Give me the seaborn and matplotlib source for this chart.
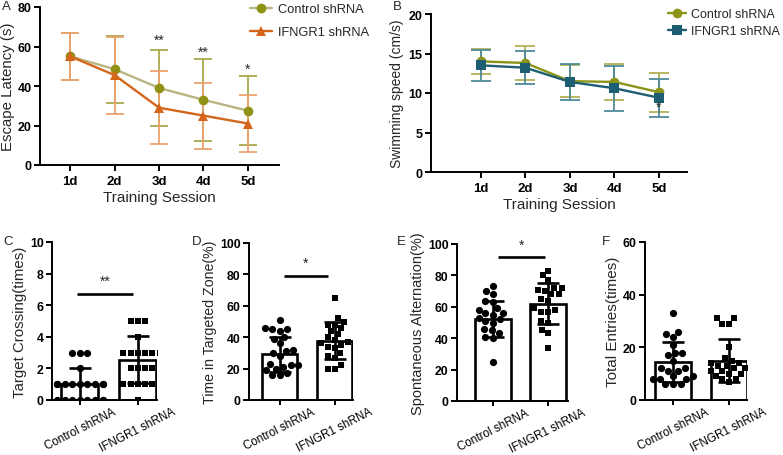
import matplotlib
matplotlib.use("Agg")
import matplotlib.pyplot as plt
from matplotlib.lines import Line2D
import numpy as np
import pandas as pd
import seaborn as sns

sns.set_style("ticks")
plt.rcParams["font.family"] = ["Liberation Sans", "DejaVu Sans"]

# ---------------- data ----------------
days = ["1d", "2d", "3d", "4d", "5d"]
day_pos = [1, 2, 3, 4, 5]
groups = ["Control shRNA", "IFNGR1 shRNA"]

lat_ctrl_mean = [55, 48.5, 39, 33, 27.5]
lat_ctrl_sd = [12, 17, 19, 20.7, 17.5]
lat_ifn_mean = [55, 45.5, 29, 25, 21]
lat_ifn_sd = [12, 19.5, 18.5, 16.7, 14.6]
lat_stars = ["", "", "**", "**", "*"]
lat_star_y = [0, 0, 60, 54, 45]

spd_ctrl_mean = [14.0, 13.8, 11.5, 11.4, 10.1]
spd_ctrl_sd = [1.6, 2.2, 2.0, 2.3, 2.45]
spd_ifn_mean = [13.5, 13.2, 11.4, 10.6, 9.4]
spd_ifn_sd = [1.95, 2.1, 2.25, 2.85, 2.4]

cross_ctrl = [0, 0, 0, 0, 0, 0, 0, 0, 1, 1, 1, 1, 1, 1, 1, 1, 1, 2, 3, 3, 3]
cross_ifn = [0, 1, 1, 1, 1, 1, 2, 2, 2, 2, 3, 3, 3, 3, 3, 3, 4, 5, 5, 5]
cross_mean = [1.0, 2.55]
cross_sd = [1.0, 1.5]

zone_ctrl = [51, 46, 45, 45, 44, 40, 39, 36, 32, 31, 30, 28, 23, 22, 22, 21, 20, 19, 17, 16, 16]
zone_ifn = [65, 52, 50, 48, 48, 46, 44, 42, 40, 38, 37, 36, 35, 34, 33, 30, 28, 27, 22, 20, 20]
zone_mean = [29, 37.8]
zone_sd = [11, 12]

alt_ctrl = [73, 70, 68, 64, 63, 59, 58, 56, 56, 55, 53, 52, 51, 50, 46, 45, 43, 41, 40, 25]
alt_ifn = [83, 80, 77, 72, 72, 71, 70, 68, 68, 65, 64, 59, 58, 57, 57, 51, 50, 45, 43, 34]
alt_mean = [52.2, 62]
alt_sd = [11.7, 13]

ent_ctrl = [33, 26, 25, 24, 21, 18, 18, 17, 15, 12, 12, 11, 11, 9, 9, 8, 8, 8, 6, 6, 6]
ent_ifn = [31, 31, 29, 29, 20, 16, 15, 14, 14, 13, 13, 12, 12, 11, 11, 10, 10, 9, 8, 8, 7]
ent_mean = [14.6, 15]
ent_sd = [7.6, 8.2]

# ---------------- layout ----------------
W, H = 783, 456
fig = plt.figure(figsize=(W / 100, H / 100), dpi=100)


def add_ax(l, t, r, b):
    return fig.add_axes([l / W, 1 - b / H, (r - l) / W, (b - t) / H])


def style_axis(ax, ytick_size=9):
    sns.despine(ax=ax)
    for s in ["left", "bottom"]:
        ax.spines[s].set_linewidth(1.4)
        ax.spines[s].set_color("black")
    ax.tick_params(axis="both", direction="out", length=4, width=1.4, colors="black")
    ax.tick_params(axis="y", pad=2)
    for tl in ax.get_yticklabels():
        tl.set_fontweight("bold")
        tl.set_fontsize(ytick_size)


def letter(x, y, s):
    fig.text(x / W, 1 - y / H, s, fontsize=9.5, va="top", ha="left")


# ---------------- Panel A ----------------
axA = add_ax(40, 8, 279, 166)
dfA = pd.DataFrame({
    "day": day_pos * 2,
    "val": lat_ctrl_mean + lat_ifn_mean,
    "group": [groups[0]] * 5 + [groups[1]] * 5,
})
ctrlA_line, ctrlA_mk, ctrlA_err = "#b9b482", "#8e9114", "#aaa84a"
ifnA_line, ifnA_err = "#d4661c", "#eba370"
axA.errorbar(day_pos, lat_ctrl_mean, yerr=lat_ctrl_sd, fmt="none", ecolor=ctrlA_err,
             elinewidth=1.3, capsize=6.5, capthick=1.3, zorder=1)
axA.errorbar(day_pos, lat_ifn_mean, yerr=lat_ifn_sd, fmt="none", ecolor=ifnA_err,
             elinewidth=1.3, capsize=6.5, capthick=1.3, zorder=1)
sns.lineplot(data=dfA, x="day", y="val", hue="group", style="group",
             markers={groups[0]: "o", groups[1]: "^"}, dashes=False,
             palette={groups[0]: ctrlA_line, groups[1]: ifnA_line},
             markersize=7, linewidth=1.7, markeredgewidth=0, ax=axA, legend=False, zorder=3)
for ln in axA.get_lines():
    if ln.get_color() == ctrlA_line:
        ln.set_markerfacecolor(ctrlA_mk)
axA.set_xlim(0.32, 5.7)
axA.set_ylim(0, 80)
axA.set_yticks([0, 20, 40, 60, 80])
axA.set_xticks(day_pos)
axA.set_xticklabels(days, fontweight="bold", fontsize=9.5)
axA.set_xlabel("Training Session", fontsize=11, labelpad=2)
axA.set_ylabel("Escape Latency (s)", fontsize=10.8, labelpad=2)
style_axis(axA)
for x, s, y in zip(day_pos, lat_stars, lat_star_y):
    if s:
        axA.text(x, y, s, ha="center", va="bottom", fontsize=10)
hA = [Line2D([], [], color=ctrlA_line, marker="o", markerfacecolor=ctrlA_mk, markeredgewidth=0, markersize=7, lw=1.7),
      Line2D([], [], color=ifnA_line, marker="^", markeredgewidth=0, markersize=7, lw=1.7)]
fig.legend(hA, groups, loc="upper left", bbox_to_anchor=(250 / W, 1 - 4 / H), frameon=False,
           fontsize=9.3, handlelength=1.7, handletextpad=0.5, labelspacing=0.85, borderpad=0, borderaxespad=0)
letter(2, 1, "A")

# ---------------- Panel B ----------------
axB = add_ax(431, 15, 687, 173)
dfB = pd.DataFrame({
    "day": day_pos * 2,
    "val": spd_ctrl_mean + spd_ifn_mean,
    "group": [groups[0]] * 5 + [groups[1]] * 5,
})
ctrlB, ifnB = "#8b9416", "#1d5e73"
axB.errorbar(day_pos, spd_ctrl_mean, yerr=spd_ctrl_sd, fmt="none", ecolor="#b3b055",
             elinewidth=1.3, capsize=7.5, capthick=1.3, zorder=1)
axB.errorbar(day_pos, spd_ifn_mean, yerr=spd_ifn_sd, fmt="none", ecolor="#4f8a9a",
             elinewidth=1.3, capsize=7.5, capthick=1.3, zorder=1)
sns.lineplot(data=dfB, x="day", y="val", hue="group", style="group",
             markers={groups[0]: "o", groups[1]: "s"}, dashes=False,
             palette={groups[0]: ctrlB, groups[1]: ifnB},
             markersize=7, linewidth=1.7, markeredgewidth=0, ax=axB, legend=False, zorder=3)
axB.set_xlim(-0.12, 5.63)
axB.set_ylim(0, 20)
axB.set_yticks([0, 5, 10, 15, 20])
axB.set_xticks(day_pos)
axB.set_xticklabels(days, fontweight="bold", fontsize=9.5)
axB.set_xlabel("Training Session", fontsize=11, labelpad=2)
axB.set_ylabel("Swimming speed (cm/s)", fontsize=10, labelpad=3)
style_axis(axB)
axB.text(5, 7.4, "*", ha="center", va="bottom", fontsize=10, zorder=10)
hB = [Line2D([], [], color=ctrlB, marker="o", markeredgewidth=0, markersize=7, lw=1.7),
      Line2D([], [], color=ifnB, marker="s", markeredgewidth=0, markersize=6.5, lw=1.7)]
fig.legend(hB, groups, loc="upper left", bbox_to_anchor=(668 / W, 1 - 9 / H), frameon=False,
           fontsize=9, handlelength=1.4, handletextpad=0.45, labelspacing=0.4, borderpad=0, borderaxespad=0)
letter(393, 1, "B")


# ---------------- Bar panels ----------------
def bar_panel(ax, ctrl_pts, ifn_pts, means, sds, ylim, yticks, ylabel, xlim, ylabel_size,
              sig=None):
    dfm = pd.DataFrame({"group": groups, "mean": means})
    sns.barplot(data=dfm, x="group", y="mean", order=groups, color="white",
                edgecolor="black", linewidth=1.9, width=0.64, errorbar=None, ax=ax, zorder=1)
    for b in ax.patches:
        b.set_facecolor("white")
    dfc = pd.DataFrame({"group": [groups[0]] * len(ctrl_pts), "v": ctrl_pts})
    dfi = pd.DataFrame({"group": [groups[1]] * len(ifn_pts), "v": ifn_pts})
    sns.swarmplot(data=dfc, x="group", y="v", order=groups, color="black", marker="o",
                  size=5.2, linewidth=0, ax=ax, zorder=2, warn_thresh=1)
    sns.swarmplot(data=dfi, x="group", y="v", order=groups, color="black", marker="s",
                  size=5.0, linewidth=0, ax=ax, zorder=2, warn_thresh=1)
    ax.errorbar([0, 1], means, yerr=sds, fmt="none", ecolor="black", elinewidth=1.9,
                capsize=8, capthick=1.9, zorder=4)
    ax.set_xlim(*xlim)
    ax.set_ylim(*ylim)
    ax.set_yticks(yticks)
    ax.set_xticks([0, 1])
    ax.set_xticklabels(groups, rotation=27, ha="center", fontsize=8.4)
    ax.set_xlabel("")
    ax.set_ylabel(ylabel, fontsize=ylabel_size, labelpad=2)
    style_axis(ax, ytick_size=8.8)
    ax.tick_params(axis="x", length=3.5, pad=0.3)
    if sig is not None:
        (x0, x1, y, ys, s) = sig
        ax.plot([x0, x1], [y, y], color="black", lw=1.9, solid_capstyle="butt", zorder=5)
        ax.text((x0 + x1) / 2, ys, s, ha="center", va="bottom", fontsize=10)


axC = add_ax(52, 243, 157, 401)
bar_panel(axC, cross_ctrl, cross_ifn, cross_mean, cross_sd, (0, 10), [0, 2, 4, 6, 8, 10],
          "Target Crossing(times)", (-0.48, 1.33), 10.8, sig=(-0.05, 0.92, 6.7, 7.1, "**"))
letter(3, 236, "C")

axD = add_ax(249, 244, 353, 401)
bar_panel(axD, zone_ctrl, zone_ifn, zone_mean, zone_sd, (0, 100), [0, 20, 40, 60, 80, 100],
          "Time in Targeted Zone(%)", (-0.56, 1.33), 10.2, sig=(0.07, 0.87, 79, 83, "*"))
letter(192, 236, "D")

axE = add_ax(457, 245, 568, 402)
bar_panel(axE, alt_ctrl, alt_ifn, alt_mean, alt_sd, (0, 100), [0, 20, 40, 60, 80, 100],
          "Spontaneous Alternation(%)", (-0.65, 1.36), 10.5, sig=(0.09, 0.95, 91.7, 95, "*"))
letter(397, 236, "E")

axF = add_ax(645, 243, 747, 401)
bar_panel(axF, ent_ctrl, ent_ifn, ent_mean, ent_sd, (0, 60), [0, 20, 40, 60],
          "Total Entries(times)", (-0.5, 1.32), 11)
letter(602, 236, "F")

fig.savefig("out.png", dpi=100)
